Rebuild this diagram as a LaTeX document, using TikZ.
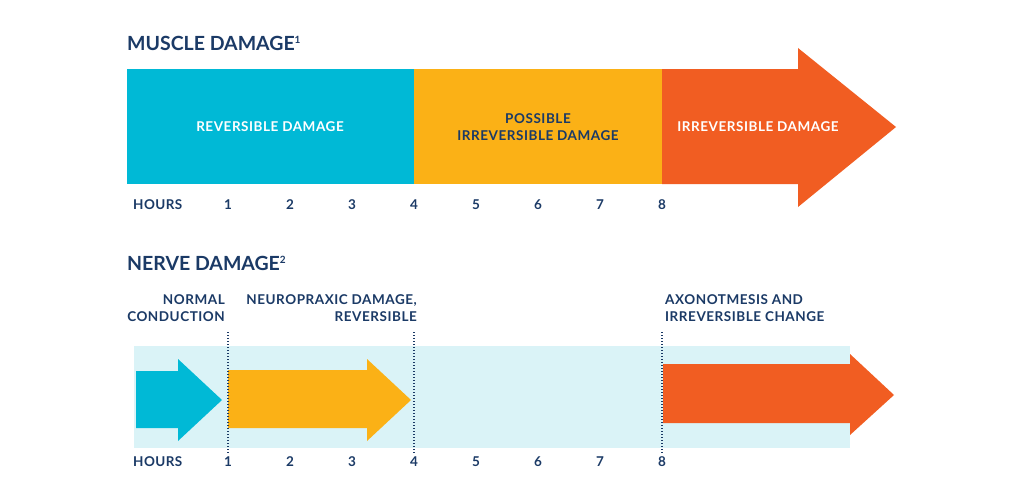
\documentclass[tikz,border=0pt]{standalone}
\usepackage{fontspec}
\setmainfont{Lato}
\definecolor{navy}{HTML}{1B3A66}
\definecolor{cyanA}{HTML}{00B9D6}
\definecolor{yellowA}{HTML}{FBB116}
\definecolor{orangeA}{HTML}{F15D22}
\definecolor{bandA}{HTML}{DAF3F7}
\newcommand{\supmark}[1]{\raisebox{6.5pt}{\fontsize{10}{10}\selectfont #1}}
\begin{document}
\begin{tikzpicture}[x=1pt,y=-1pt,
  title/.style={font=\fontsize{19.5}{22}\selectfont\bfseries, text=navy, inner sep=0, anchor=base west},
  lbl/.style={font=\fontsize{13.5}{17}\selectfont\bfseries\addfontfeatures{LetterSpace=4}, inner sep=0},
  hr/.style={font=\fontsize{13.5}{16}\selectfont\bfseries\addfontfeatures{LetterSpace=3}, text=navy, inner sep=0},
  dotline/.style={draw=navy, line width=1.4pt, dash pattern=on 1.4pt off 1.6pt}
]
\useasboundingbox (0,0) rectangle (1024,503);
\fill[white] (0,0) rectangle (1024,503);

% ---- Muscle damage ----
\node[title] (t1) at (127,50) {MUSCLE DAMAGE\supmark{1}};
\fill[cyanA] (127,69) rectangle (414.5,184);
\fill[yellowA] (414,69) rectangle (662.5,184);
\fill[orangeA] (662,69) -- (798,69) -- (798,48) -- (896,127) -- (798,207) -- (798,184) -- (662,184) -- cycle;
\node[lbl, text=white] (m1) at (270,127) {REVERSIBLE DAMAGE};
\node[lbl, text=navy, align=center] (m2) at (538,127) {POSSIBLE\\IRREVERSIBLE DAMAGE};
\node[lbl, text=white] (m3) at (758,127) {IRREVERSIBLE DAMAGE};

\node[hr, anchor=west] (hA) at (133,205) {HOURS};
\foreach \i in {1,...,8} {
  \node[hr] (a\i) at ({228+62*(\i-1)},205) {\i};
}

% ---- Nerve damage ----
\node[title] (t2) at (127,270) {NERVE DAMAGE\supmark{2}};
\fill[bandA] (134,346) rectangle (850,448);
\fill[cyanA] (136,371) -- (178,371) -- (178,359) -- (222,400) -- (178,441) -- (178,428) -- (136,428) -- cycle;
\fill[yellowA] (228,370) -- (367,370) -- (367,359) -- (411,400) -- (367,441) -- (367,428) -- (228,428) -- cycle;
\fill[orangeA] (663,364) -- (850,364) -- (850,354) -- (894,395) -- (850,435) -- (850,423) -- (663,423) -- cycle;

\node[lbl, text=navy, align=right, anchor=east] (n1) at (225,308.5) {NORMAL\\CONDUCTION};
\node[lbl, text=navy, align=right, anchor=east] (n2) at (417,308.5) {NEUROPRAXIC DAMAGE,\\REVERSIBLE};
\node[lbl, text=navy, align=left, anchor=west] (n3) at (665,308) {AXONOTMESIS AND\\IRREVERSIBLE CHANGE};

\coordinate (d1t) at (228,332); \coordinate (d1b) at (228,453);
\coordinate (d4t) at (414,332); \coordinate (d4b) at (414,453);
\coordinate (d8t) at (662,332); \coordinate (d8b) at (662,453);
\draw[dotline] (d1t) -- (d1b);
\draw[dotline] (d4t) -- (d4b);
\draw[dotline] (d8t) -- (d8b);

\node[hr, anchor=west] (hB) at (133,462) {HOURS};
\foreach \i in {1,...,8} {
  \node[hr] (b\i) at ({228+62*(\i-1)},462) {\i};
}
\end{tikzpicture}
\end{document}
